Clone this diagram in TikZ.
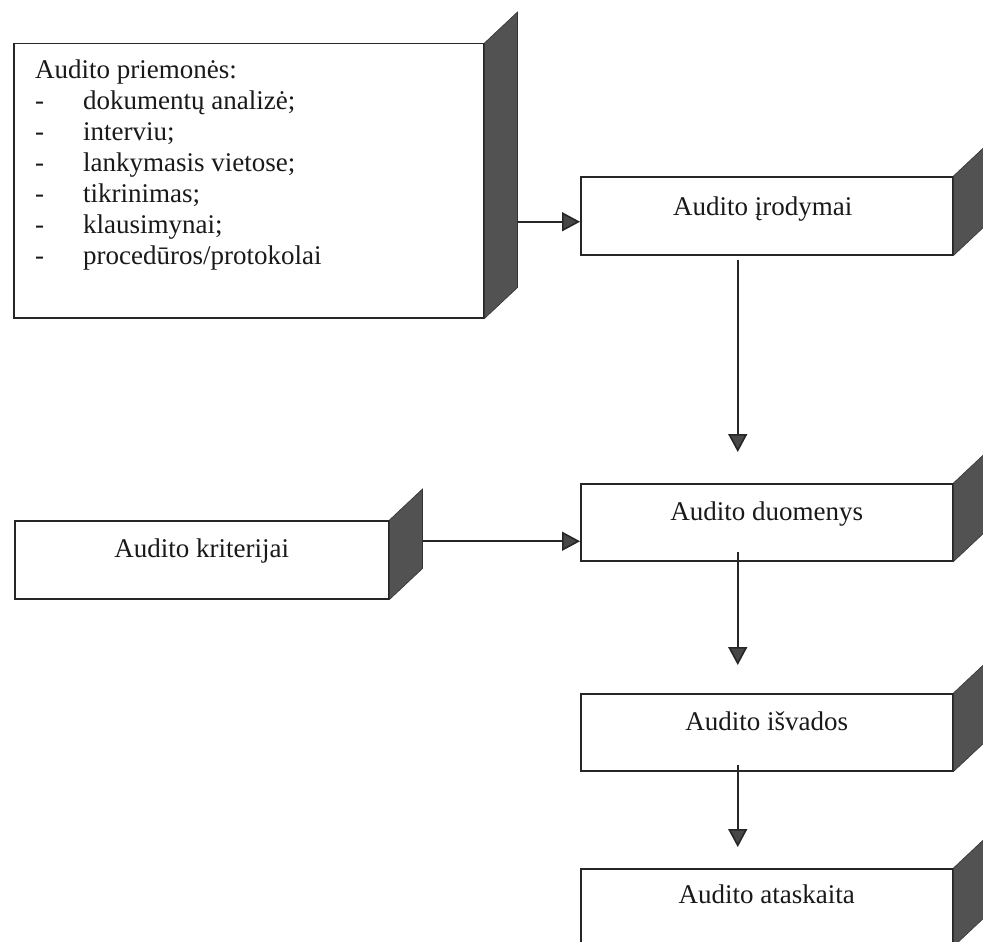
\documentclass[tikz,border=0pt]{standalone}
\usepackage{fontspec}
\setmainfont{Liberation Serif}
\usetikzlibrary{arrows.meta}

\tikzset{
  boks/.style={draw=black!85, line width=1.5pt, fill=white, inner sep=0pt, anchor=north west},
  sideface/.style={fill=black!68, draw=black!80, line width=0.6pt},
  lbl/.style={font=\fontsize{27}{31}\selectfont, text=black!90, inner sep=0pt, anchor=base},
  arr/.style={draw=black!85, line width=1.6pt, -{Triangle[length=18pt,width=19pt,fill=black!72]}},
}
% shaded side face of a box
\newcommand{\boxside}[1]{\filldraw[sideface] (#1.north east) -- ++(33,-31) -- ([shift={(33,-31)}]#1.south east) -- (#1.south east) -- cycle;}
\newcommand{\dsh}{\makebox[48pt][l]{-}}

\begin{document}
\begin{tikzpicture}[x=1pt,y=-1pt]
  \useasboundingbox (0,0) rectangle (983,942);

  % boxes
  \node[boks, minimum width=470pt, minimum height=274pt] (prm) at (13,43) {};
  \node[boks, minimum width=372pt, minimum height=78pt] (ev) at (580,176) {};
  \node[boks, minimum width=372pt, minimum height=77pt] (dat) at (580,483) {};
  \node[boks, minimum width=374pt, minimum height=78pt] (krit) at (14,520) {};
  \node[boks, minimum width=372pt, minimum height=77pt] (isv) at (580,693) {};
  \node[boks, minimum width=372pt, minimum height=77pt] (atsk) at (580,868) {};

  \boxside{prm}
  \boxside{ev}
  \boxside{dat}
  \boxside{krit}
  \boxside{isv}
  \boxside{atsk}

  % texts
  \node[lbl, align=left, anchor=north west] (prmtxt) at (35,60) {Audito priemonės:\\
    \dsh dokumentų analizė;\\
    \dsh interviu;\\
    \dsh lankymasis vietose;\\
    \dsh tikrinimas;\\
    \dsh klausimynai;\\
    \dsh procedūros/protokolai};
  \node[lbl] (evtxt) at ([xshift=-4, yshift=-39]ev.north) {Audito įrodymai};
  \node[lbl] (dattxt) at ([yshift=-37]dat.north) {Audito duomenys};
  \node[lbl] (krittxt) at ([yshift=-37]krit.north) {Audito kriterijai};
  \node[lbl] (isvtxt) at ([yshift=-37]isv.north) {Audito išvados};
  \node[lbl] (atsktxt) at ([yshift=-35]atsk.north) {Audito ataskaita};

  % arrows
  \coordinate (in1) at ([yshift=-6]ev.west);
  \coordinate (prmR) at ([xshift=33]prm.east);
  \coordinate (in2) at ([yshift=-19]dat.west);
  \coordinate (kritR) at ([xshift=33]krit.east);
  \draw[arr] (prmR |- in1) -- (in1);
  \draw[arr] (kritR |- in2) -- (in2);
  \draw[arr] ([xshift=-29, yshift=-4]ev.south) -- ([xshift=-29, yshift=31]dat.north);
  \draw[arr] ([xshift=-29, yshift=10]dat.south) -- ([xshift=-29, yshift=28]isv.north);
  \draw[arr] ([xshift=-29, yshift=7]isv.south) -- ([xshift=-29, yshift=21]atsk.north);
\end{tikzpicture}
\end{document}
